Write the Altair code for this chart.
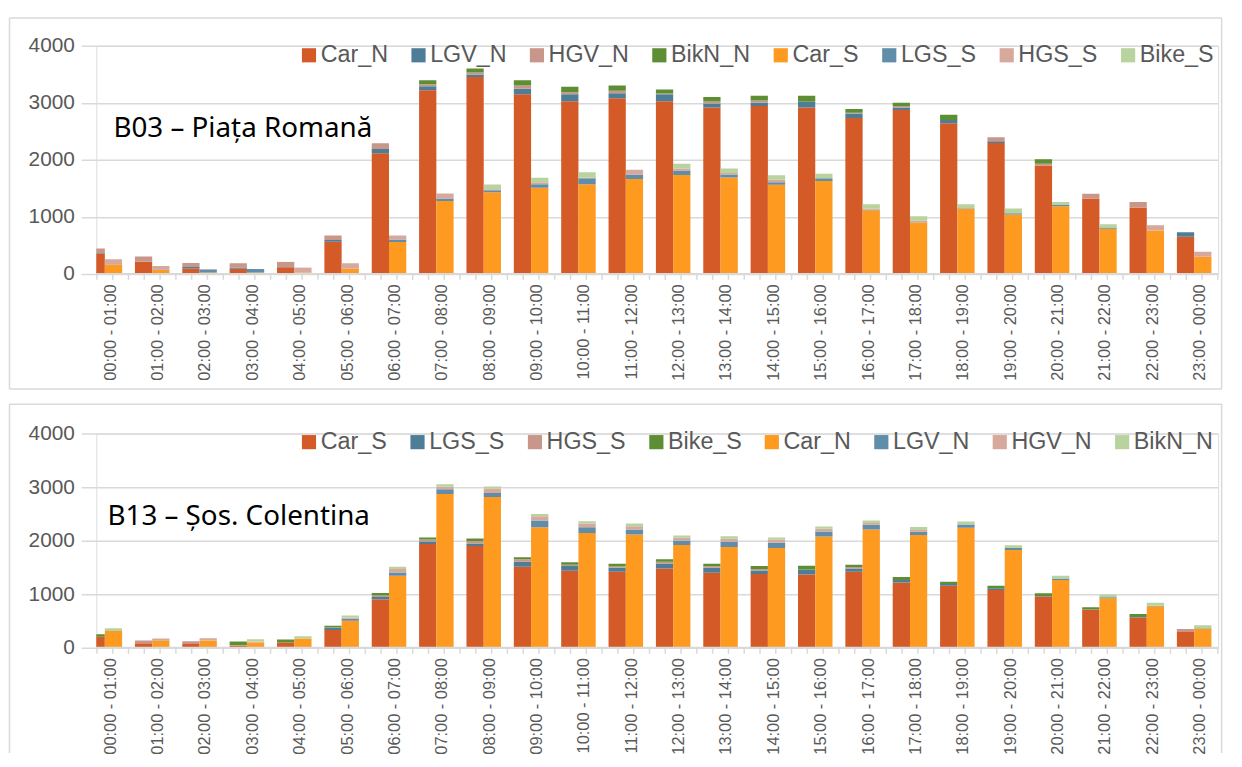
import altair as alt
import pandas as pd

HOURS = ["00:00 - 01:00", "01:00 - 02:00", "02:00 - 03:00", "03:00 - 04:00",
         "04:00 - 05:00", "05:00 - 06:00", "06:00 - 07:00", "07:00 - 08:00",
         "08:00 - 09:00", "09:00 - 10:00", "10:00 - 11:00", "11:00 - 12:00",
         "12:00 - 13:00", "13:00 - 14:00", "14:00 - 15:00", "15:00 - 16:00",
         "16:00 - 17:00", "17:00 - 18:00", "18:00 - 19:00", "19:00 - 20:00",
         "20:00 - 21:00", "21:00 - 22:00", "22:00 - 23:00", "23:00 - 00:00"]

# ---------------- B03 - Piata Romana ----------------
B03_TITLE = "B03 – Piața Romană"
B03_SERIES = ["Car_N", "LGV_N", "HGV_N", "BikN_N", "Car_S", "LGS_S", "HGS_S", "Bike_S"]
B03_CAR_N = [350, 210, 95, 90, 115, 564, 2116, 3221, 3453, 3151, 3029, 3081,
             3029, 2919, 2942, 2919, 2733, 2872, 2640, 2297, 1901, 1320, 1163, 651]
B03_LGV_N = [10, 5, 25, 20, 5, 29, 75, 70, 45, 93, 122, 87,
             122, 70, 58, 93, 81, 47, 58, 30, 0, 0, 0, 81]
B03_HGV_N = [85, 90, 70, 75, 90, 81, 99, 35, 35, 58, 35, 41,
             12, 35, 41, 6, 12, 23, 0, 70, 29, 87, 99, 0]
B03_BIK_N = [0, 0, 0, 0, 0, 0, 0, 70, 70, 93, 93, 93,
             70, 76, 81, 105, 64, 58, 93, 0, 81, 0, 0, 0]
B03_CAR_S = [165, 70, 25, 25, 25, 90, 558, 1279, 1430, 1512, 1570, 1663,
             1733, 1692, 1564, 1628, 1116, 901, 1140, 1041, 1186, 791, 762, 302]
B03_LGS_S = [5, 5, 50, 60, 0, 5, 46, 45, 35, 58, 105, 81,
             81, 52, 41, 47, 10, 5, 10, 23, 23, 23, 0, 0]
B03_HGS_S = [85, 65, 10, 0, 85, 90, 70, 85, 17, 35, 12, 81,
             35, 23, 47, 0, 15, 25, 0, 0, 0, 0, 93, 87]
B03_BIK_S = [0, 0, 0, 0, 0, 0, 0, 0, 87, 81, 93, 0,
             81, 81, 76, 81, 80, 80, 70, 81, 52, 58, 0, 0]

# ---------------- B13 - Sos. Colentina ----------------
B13_TITLE = "B13 – Șos. Colentina"
B13_SERIES = ["Car_S", "LGS_S", "HGS_S", "Bike_S", "Car_N", "LGV_N", "HGV_N", "BikN_N"]
B13_CAR_S = [205, 86, 74, 40, 99, 333, 901, 1938, 1901, 1512, 1438, 1420,
             1481, 1401, 1377, 1370, 1420, 1222, 1160, 1080, 957, 710, 568, 296]
B13_LGS_S = [0, 0, 0, 0, 0, 37, 49, 49, 49, 93, 90, 74,
             93, 93, 68, 93, 62, 43, 31, 31, 10, 5, 10, 0]
B13_HGS_S = [0, 50, 49, 10, 0, 12, 25, 37, 43, 49, 25, 25,
             31, 31, 25, 0, 25, 0, 0, 0, 0, 0, 0, 56]
B13_BIK_S = [49, 0, 0, 70, 55, 31, 49, 37, 49, 37, 45, 49,
             49, 43, 56, 68, 43, 56, 43, 49, 52, 45, 52, 0]
B13_CAR_N = [315, 136, 136, 99, 173, 506, 1346, 2870, 2815, 2253, 2142, 2117,
             1920, 1883, 1864, 2080, 2210, 2105, 2241, 1827, 1265, 926, 778, 358]
B13_LGV_N = [0, 5, 0, 0, 0, 37, 62, 93, 74, 123, 111, 93,
             86, 99, 99, 93, 86, 62, 62, 37, 31, 19, 10, 10]
B13_HGV_N = [0, 35, 43, 20, 0, 25, 62, 49, 86, 80, 68, 62,
             49, 56, 56, 49, 37, 31, 0, 0, 0, 0, 0, 0]
B13_BIK_N = [50, 0, 0, 40, 43, 37, 43, 43, 37, 43, 43, 49,
             43, 43, 43, 43, 43, 56, 56, 49, 49, 49, 52, 52]

DARK_LIGHT = ["#D45B28", "#4E7D98", "#C9968A", "#5E8E33",
              "#FD9A1F", "#5F8DAA", "#D6A99C", "#B9D39E"]

GRID = "#d9d9d9"
TXT = "#595959"
PLOT_W = 1131
X_RANGE = [-15.25, 1130.7]
BORDER_L = -87.5
BORDER_R = 1134.5

X_AXIS = alt.Axis(labelAngle=270, labelFontSize=16.5, labelColor=TXT,
                  labelFont="Liberation Sans", labelPadding=10, labelOffset=6,
                  ticks=False, domain=False, grid=False, title=None)


def build_df(series, left_vals, right_vals):
    rows = []
    for side, names, vals in (("L", series[:4], left_vals), ("R", series[4:], right_vals)):
        for i, h in enumerate(HOURS):
            base = 0
            for k, (name, arr) in enumerate(zip(names, vals)):
                v = arr[i]
                if v > 0:
                    rows.append(dict(hour=h, side=side, series=name, value=v,
                                     y0=base, y1=base + v, k=k))
                base += v
    return pd.DataFrame(rows)


def frame_rule(one, **enc):
    return alt.Chart(one).mark_rule(color=GRID, strokeWidth=1.5).encode(**enc)


def panel(title, series, left_vals, right_vals, height, legend_y, title_x,
          border_top, border_bottom, closed):
    df = build_df(series, left_vals, right_vals)
    one = pd.DataFrame({"a": [0]})
    hours_df = pd.DataFrame({"hour": HOURS})

    frame = [
        frame_rule(one, x=alt.value(BORDER_L), x2=alt.value(BORDER_R), y=alt.value(border_top)),
        frame_rule(one, x=alt.value(BORDER_L), y=alt.value(border_top), y2=alt.value(border_bottom)),
        frame_rule(one, x=alt.value(BORDER_R), y=alt.value(border_top), y2=alt.value(border_bottom)),
    ]
    if closed:
        frame.append(frame_rule(one, x=alt.value(BORDER_L), x2=alt.value(BORDER_R),
                                y=alt.value(border_bottom)))

    bars = alt.Chart(df).mark_bar(clip=True).encode(
        x=alt.X("hour:N", sort=HOURS,
                scale=alt.Scale(range=X_RANGE, paddingInner=0, paddingOuter=0),
                axis=X_AXIS),
        xOffset=alt.XOffset("side:N", sort=["L", "R"],
                            scale=alt.Scale(paddingInner=0, paddingOuter=0.372)),
        y=alt.Y("y1:Q", scale=alt.Scale(domain=[0, 4000], nice=False),
                axis=alt.Axis(values=[0, 1000, 2000, 3000, 4000], format="d",
                              labelFontSize=21, labelColor=TXT, labelFont="Liberation Sans",
                              labelPadding=22, ticks=False, domain=False,
                              grid=True, gridColor=GRID, gridWidth=1.5, title=None)),
        y2="y0:Q",
        color=alt.Color("series:N", scale=alt.Scale(domain=series, range=DARK_LIGHT),
                        title=None,
                        legend=alt.Legend(orient="none", legendX=202.7, legendY=legend_y,
                                          direction="horizontal", columns=8,
                                          symbolType="square", symbolSize=204,
                                          symbolStrokeWidth=0, symbolOpacity=1,
                                          labelFontSize=23.5, labelColor=TXT,
                                          labelFont="Liberation Sans", labelOffset=0,
                                          columnPadding=18.4, padding=0, labelLimit=0)),
    )

    tick_layers = [
        alt.Chart(hours_df).mark_rule(color=GRID, strokeWidth=1.5).encode(
            x=alt.X("hour:N", sort=HOURS, bandPosition=b, axis=X_AXIS),
            y=alt.value(height), y2=alt.value(height + 6))
        for b in (1 / 3, 2 / 3, 1)
    ]

    baseline = alt.Chart(one).mark_rule(color=GRID, strokeWidth=2).encode(
        x=alt.value(0), x2=alt.value(PLOT_W), y=alt.value(height))

    label = alt.Chart(pd.DataFrame({"t": [title]})).mark_text(
        align="left", baseline="alphabetic", font="Noto Sans", fontSize=28, color="black"
    ).encode(x=alt.value(title_x), y=alt.value(92), text="t:N")

    return alt.layer(*frame, bars, *tick_layers, baseline, label).properties(
        width=PLOT_W, height=height)


top = panel(B03_TITLE, B03_SERIES,
            [B03_CAR_N, B03_LGV_N, B03_HGV_N, B03_BIK_N],
            [B03_CAR_S, B03_LGS_S, B03_HGS_S, B03_BIK_S],
            height=230, legend_y=-2.5, title_x=17.3,
            border_top=-28, border_bottom=346, closed=True)

bottom = panel(B13_TITLE, B13_SERIES,
               [B13_CAR_S, B13_LGS_S, B13_HGS_S, B13_BIK_S],
               [B13_CAR_N, B13_LGV_N, B13_HGV_N, B13_BIK_N],
               height=216, legend_y=-3.5, title_x=11.3,
               border_top=-29.5, border_bottom=322, closed=False)

chart = alt.vconcat(top, bottom, spacing=12).resolve_scale(
    color="independent", x="independent", y="independent", xOffset="independent"
).resolve_legend(color="independent").properties(
    padding={"left": 0, "top": 5, "right": 0, "bottom": 0}
).configure_view(strokeWidth=0).configure(background="white")

chart.save("out.html", embed_options={"renderer": "svg", "actions": False})
